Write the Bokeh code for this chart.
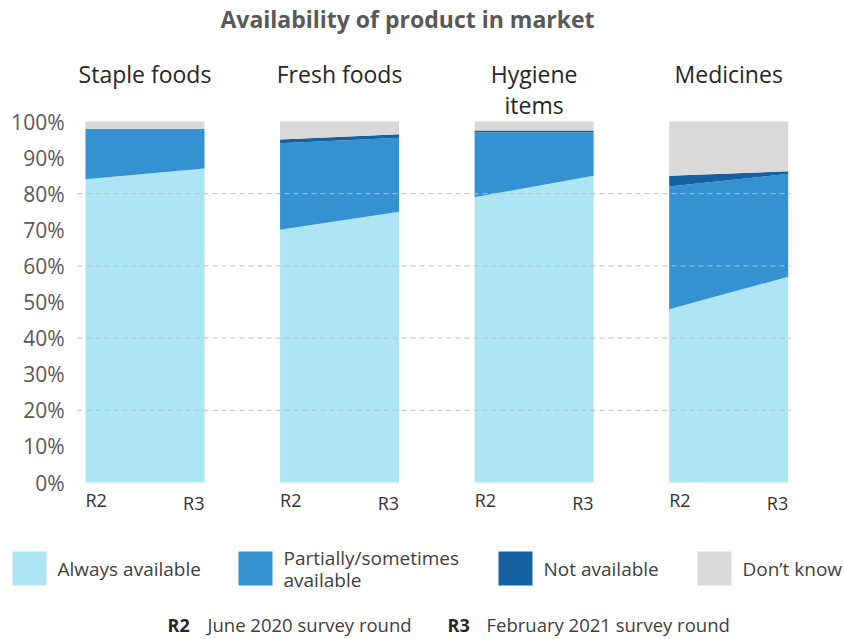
from bokeh.plotting import figure
from bokeh.models import Range1d, ColumnDataSource
from bokeh.core.properties import value
from bokeh.embed import file_html
from bokeh.resources import INLINE

# ---------------- data ----------------
categories = ["Staple foods", "Fresh foods", "Hygiene\nitems", "Medicines"]
rounds = ["R2", "R3"]
round_desc = ["June 2020 survey round", "February 2021 survey round"]
series = ["Always available", "Partially/sometimes\navailable", "Not available", "Don\u2019t know"]
always_available = [[84, 87], [70, 75], [79, 85], [48, 57]]
partially_available = [[14, 11], [24, 20.5], [18, 12], [34, 28.5]]
not_available = [[0, 0], [1, 1], [0.5, 0.5], [3, 0.7]]
dont_know = [[2, 2], [5, 3.5], [2.5, 2.5], [15, 13.8]]
y_ticks = [0, 10, 20, 30, 40, 50, 60, 70, 80, 90, 100]
grid_ticks = [20, 40, 60, 80]
title_text = "Availability of product in market"

# ---------------- layout / styles ----------------
colors = ["#ade5f5", "#3592d2", "#1560a0", "#d9d9d9"]
FONT = "Open Sans"
W, H = 844, 639
X0_PX, UNIT_PX = 85.0, 119.0      # screen position of x=0, px per x unit
Y0_PX, PCT_PX = 482.0, 3.61       # screen position of 0%, px per 1%
PITCH = 1.635
BAR_W = 1.0


def px_x(px):
    return (px - X0_PX) / UNIT_PX


def px_y(py):
    return (Y0_PX - py) / PCT_PX


p = figure(width=W, height=H, output_backend="svg", toolbar_location=None,
           x_range=Range1d(px_x(0), px_x(W)), y_range=Range1d(px_y(H), px_y(0)),
           x_axis_location=None, y_axis_location=None)
p.min_border_left = 0
p.min_border_right = 0
p.min_border_top = 0
p.min_border_bottom = 0
p.outline_line_color = None
p.background_fill_color = "white"
p.border_fill_color = "white"
p.xgrid.visible = False
p.ygrid.visible = False

# stacked areas R2 -> R3 per category
layers = [always_available, partially_available, not_available, dont_know]
for i, cat in enumerate(categories):
    x0 = i * PITCH
    xs = [x0, x0 + BAR_W]
    base = [0.0, 0.0]
    for k, layer in enumerate(layers):
        top = [base[j] + layer[i][j] for j in range(2)]
        src = ColumnDataSource(dict(x=xs, y1=list(base), y2=top))
        p.varea(x="x", y1="y1", y2="y2", source=src, fill_color=colors[k])
        base = top

# dashed gridlines (drawn over areas)
p.segment(x0=[px_x(77)] * len(grid_ticks), x1=[px_x(790)] * len(grid_ticks),
          y0=grid_ticks, y1=grid_ticks, line_color="#bfbfbf", line_width=1,
          line_dash="5 4")

# y tick labels
p.text(x=[px_x(64)] * len(y_ticks), y=y_ticks, text=[f"{t}%" for t in y_ticks],
       text_align="right", text_baseline="middle", text_font=value(FONT),
       text_font_size="21px", text_color="#595959")

# panel titles
cx = [i * PITCH + BAR_W / 2 for i in range(len(categories))]
p.text(x=cx, y=[px_y(57.5)] * len(categories), text=categories, text_align="center",
       text_baseline="top", text_font=value(FONT), text_font_size="23px",
       text_color="#262626", text_line_height=0.96)

# round labels under bars
r2x = [i * PITCH for i in range(len(categories))]
r3x = [i * PITCH + BAR_W for i in range(len(categories))]
p.text(x=r2x, y=[px_y(499)] * len(categories), text=[rounds[0]] * len(categories),
       text_align="left", text_baseline="middle", text_font=value(FONT),
       text_font_size="18px", text_color="#333333")
p.text(x=r3x, y=[px_y(502)] * len(categories), text=[rounds[1]] * len(categories),
       text_align="right", text_baseline="middle", text_font=value(FONT),
       text_font_size="18px", text_color="#333333")

# chart title
p.text(x=[px_x(407)], y=[px_y(18)], text=[title_text], text_align="center",
       text_baseline="middle", text_font=value(FONT), text_font_size="23px",
       text_font_style="bold", text_color="#595959")

# legend
leg_left = [12, 238, 498, 697]
p.quad(left=[px_x(l) for l in leg_left], right=[px_x(l + 34) for l in leg_left],
       top=[px_y(551)] * 4, bottom=[px_y(585)] * 4, fill_color=colors, line_color=None)
p.text(x=[px_x(l + 45) for l in leg_left], y=[px_y(568.5)] * 4, text=series,
       text_align="left", text_baseline="middle", text_font=value(FONT),
       text_font_size="19px", text_color="#404040", text_line_height=0.86)

# footer: round descriptions
p.text(x=[px_x(167), px_x(447)], y=[px_y(624)] * 2, text=rounds, text_align="left",
       text_baseline="middle", text_font=value(FONT), text_font_size="18px",
       text_font_style="bold", text_color="#262626")
p.text(x=[px_x(207), px_x(486)], y=[px_y(624)] * 2, text=round_desc, text_align="left",
       text_baseline="middle", text_font=value(FONT), text_font_size="18.5px",
       text_color="#404040")

open("out.html", "w").write(file_html(p, INLINE))
